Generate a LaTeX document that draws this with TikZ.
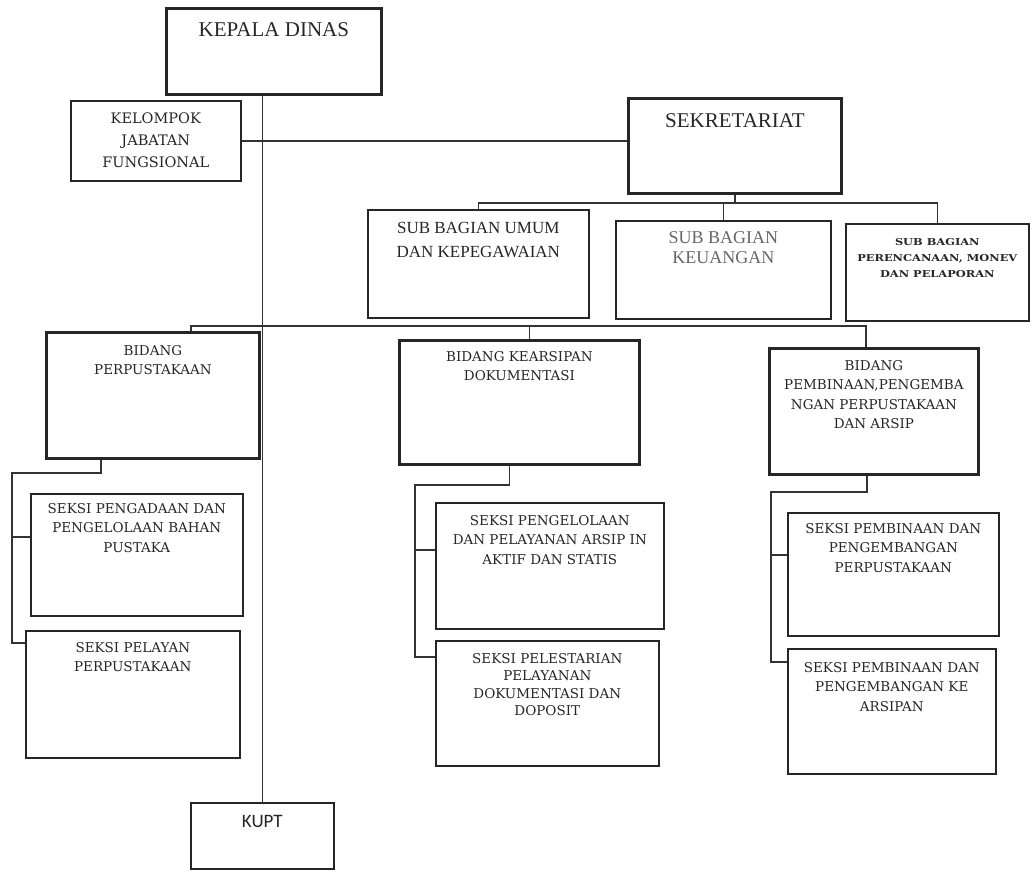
\documentclass[tikz,border=0pt]{standalone}
\usepackage{fontspec}
\setmainfont{DejaVu Serif}
\newfontfamily\timesfont{Liberation Serif}
\newfontfamily\calfont{Carlito}
\newfontfamily\widefont[FakeStretch=1.2]{DejaVu Serif}
\usetikzlibrary{positioning, calc}

\begin{document}
\begin{tikzpicture}[
		x=1pt, y=-1pt, % pixel-like units, y downwards
		box/.style={draw=black!85, line width=1.6pt, anchor=north west, inner sep=0pt},
		headbox/.style={box, line width=2.8pt},
		lbl/.style={anchor=north, align=center, inner sep=0pt, text=black!85},
		seksi/.style={lbl, font=\fontsize{13.5}{19.5}\selectfont},
		link/.style={draw=black!80, line width=1.6pt}
	]
	\useasboundingbox (0,0) rectangle (1036,872);

	% Top level
	\node[headbox, minimum width=215, minimum height=86,
		label={[lbl, yshift=-15pt, font=\timesfont\fontsize{21}{24}\selectfont]north:KEPALA DINAS}] (kd) at (165,7) {};
	\node[box, minimum width=170, minimum height=80,
		label={[lbl, yshift=-13pt, font=\fontsize{14.5}{22}\selectfont]north:KELOMPOK\\JABATAN\\FUNGSIONAL}] (kjf) at (70,100) {};
	\node[headbox, minimum width=213, minimum height=95,
		label={[lbl, yshift=-16pt, font=\timesfont\fontsize{21}{24}\selectfont]north:SEKRETARIAT}] (sek) at (627,97) {};

	% Sub bagian
	\node[box, minimum width=221, minimum height=108,
		label={[lbl, yshift=-13pt, font=\timesfont\fontsize{17}{24}\selectfont]north:SUB BAGIAN UMUM\\DAN KEPEGAWAIAN}] (sbu) at (367,209) {};
	\node[box, minimum width=215, minimum height=98,
		label={[lbl, yshift=-11pt, text=black!60, font=\timesfont\fontsize{18}{20}\selectfont]north:SUB BAGIAN\\KEUANGAN}] (sbk) at (615,220) {};
	\node[box, minimum width=183, minimum height=97,
		label={[lbl, yshift=-15pt, font=\widefont\bfseries\fontsize{9.5}{16}\selectfont]north:SUB BAGIAN\\PERENCANAAN, MONEV\\DAN PELAPORAN}] (sbp) at (845,223) {};

	% Bidang
	\node[headbox, minimum width=213, minimum height=126,
		label={[seksi, yshift=-14pt]north:BIDANG\\PERPUSTAKAAN}] (bp) at (45,331) {};
	\node[headbox, minimum width=240, minimum height=124,
		label={[seksi, yshift=-12pt]north:BIDANG KEARSIPAN\\DOKUMENTASI}] (bk) at (398,339) {};
	\node[headbox, minimum width=209, minimum height=126,
		label={[seksi, yshift=-13pt]north:BIDANG\\PEMBINAAN,PENGEMBA\\NGAN PERPUSTAKAAN\\DAN ARSIP}] (bpa) at (768,347) {};

	% Seksi
	\node[box, minimum width=212, minimum height=122,
		label={[seksi, yshift=-10pt]north:SEKSI PENGADAAN DAN\\PENGELOLAAN BAHAN\\PUSTAKA}] (s1) at (30,493) {};
	\node[box, minimum width=214, minimum height=127,
		label={[seksi, yshift=-12pt]north:SEKSI PELAYAN\\PERPUSTAKAAN}] (s2) at (25,630) {};
	\node[box, minimum width=228, minimum height=126,
		label={[seksi, yshift=-13pt]north:SEKSI PENGELOLAAN\\DAN PELAYANAN ARSIP IN\\AKTIF DAN STATIS}] (s3) at (435,502) {};
	\node[box, minimum width=223, minimum height=125,
		label={[seksi, yshift=-13pt, font=\fontsize{13.5}{17.5}\selectfont]north:SEKSI PELESTARIAN\\PELAYANAN\\DOKUMENTASI DAN\\DOPOSIT}] (s4) at (435,640) {};
	\node[box, minimum width=211, minimum height=123,
		label={[seksi, yshift=-11pt]north:SEKSI PEMBINAAN DAN\\PENGEMBANGAN\\PERPUSTAKAAN}] (s5) at (787,512) {};
	\node[box, minimum width=208, minimum height=125,
		label={[seksi, yshift=-14pt]north:SEKSI PEMBINAAN DAN\\PENGEMBANGAN KE\\ARSIPAN}] (s6) at (787,648) {};

	% KUPT
	\node[box, minimum width=143, minimum height=66,
		label={[lbl, yshift=-13pt, font=\calfont\fontsize{19}{22}\selectfont]north:KUPT}] (kupt) at (190,802) {};

	% Main line and side line
	\draw[link] (kd.south -| kupt.north) -- (kupt.north);
	\draw[link] (kjf.east) -- (kjf.east -| sek.west);

	% Sekretariat to sub bagian
	\coordinate (subbus) at (0,203);
	\draw[link] (sek.south) -- (sek.south |- subbus);
	\draw[link] (sbu.north) |- (sbp.north |- subbus) -- (sbp.north);
	\draw[link] (sbk.north) -- (sbk.north |- subbus);

	% Bidang line
	\coordinate (bidbus) at (0,326);
	\coordinate (bpdrop) at ([xshift=38pt]bp.north);
	\coordinate (bkdrop) at ([xshift=10pt]bk.north);
	\coordinate (bpadrop) at ([xshift=-8pt]bpa.north);
	\draw[link] (bpdrop) |- (bpadrop |- bidbus) -- (bpadrop);
	\draw[link] (bkdrop) -- (bkdrop |- bidbus);

	% Bidang to seksi
	\coordinate (bpjoint) at (12,473);
	\draw[link] ([xshift=-52pt]bp.south) |- (bpjoint) |- ([yshift=-44pt]s1.north west);
	\draw[link] (bpjoint) |- ([yshift=-13pt]s2.north west);

	\coordinate (bkjoint) at (415,485);
	\draw[link] ([xshift=-10pt]bk.south) |- (bkjoint) |- ([yshift=-48pt]s3.north west);
	\draw[link] (bkjoint) |- ([yshift=-17pt]s4.north west);

	\coordinate (bpajoint) at (771,492);
	\draw[link] ([xshift=-7pt]bpa.south) |- (bpajoint) |- ([yshift=-43pt]s5.north west);
	\draw[link] (bpajoint) |- ([yshift=-14pt]s6.north west);

\end{tikzpicture}
\end{document}
